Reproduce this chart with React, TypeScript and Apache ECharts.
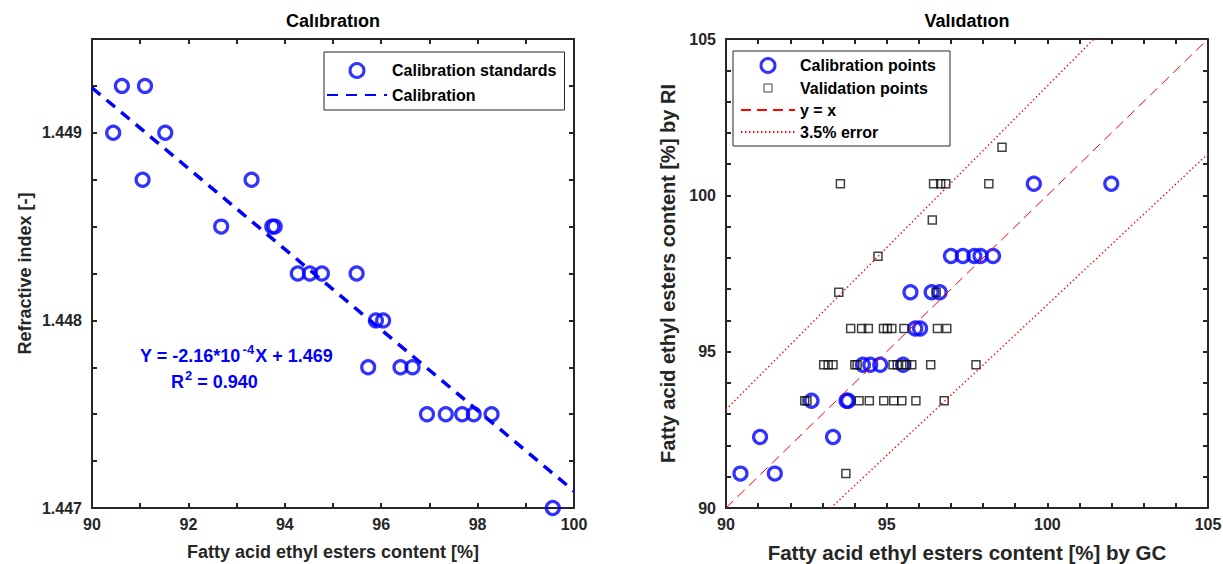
import React, { useEffect, useRef } from "react";
import * as echarts from "echarts";

// ---- Calibration (left panel) ----
const calStdGC = [90.62, 91.10, 90.44, 91.52, 91.05, 93.31, 92.68, 93.74, 93.79, 94.27, 94.52, 94.77, 95.49, 95.89, 96.04, 95.73, 96.40, 96.65, 96.95, 97.34, 97.68, 97.92, 98.29, 99.56];
const calStdRI = [1.44925, 1.44925, 1.449, 1.449, 1.44875, 1.44875, 1.4485, 1.4485, 1.4485, 1.44825, 1.44825, 1.44825, 1.44825, 1.448, 1.448, 1.44775, 1.44775, 1.44775, 1.4475, 1.4475, 1.4475, 1.4475, 1.4475, 1.447];
const calLineX = [90, 100];
const calLineY = [1.44924, 1.44709];

// ---- Validation (right panel) ----
const calPtsGC = [90.45, 91.52, 91.06, 93.33, 92.66, 93.75, 93.80, 94.26, 94.49, 94.80, 95.51, 95.89, 96.04, 95.74, 96.40, 96.65, 97.00, 97.37, 97.73, 97.92, 98.31, 99.58, 101.99];
const calPtsRI = [91.10, 91.10, 92.27, 92.27, 93.43, 93.43, 93.43, 94.58, 94.58, 94.58, 94.58, 95.74, 95.74, 96.90, 96.90, 96.90, 98.06, 98.06, 98.06, 98.06, 98.06, 100.37, 100.37];

const valGC = [93.56, 96.46, 96.68, 96.84, 98.18, 98.59, 96.42, 94.73, 93.51, 96.54,
  93.88, 94.22, 94.43, 94.90, 95.02, 95.16, 95.54, 96.58, 96.87,
  93.04, 93.18, 93.33, 94.01, 94.08, 95.20, 95.33, 95.47, 95.62, 95.78, 96.37, 97.78,
  92.45, 92.52, 94.14, 94.46, 94.91, 95.22, 95.47, 95.91, 96.79,
  93.73];
const valRI = [100.37, 100.37, 100.37, 100.37, 100.37, 101.54, 99.21, 98.05, 96.90, 96.90,
  95.74, 95.74, 95.74, 95.74, 95.74, 95.74, 95.74, 95.74, 95.74,
  94.58, 94.58, 94.58, 94.58, 94.58, 94.58, 94.58, 94.58, 94.58, 94.58, 94.58, 94.58,
  93.43, 93.43, 93.43, 93.43, 93.43, 93.43, 93.43, 93.43, 93.43,
  91.10];

const identityX = [90, 105];
const identityY = [90, 105];
const errUpperX = [90, 101.45];
const errUpperY = [93.15, 105];
const errLowerX = [93.26, 105];
const errLowerY = [90, 101.325];

const FONT = 'Arial, "Liberation Sans", sans-serif';
const AX = "#262626";
const BLUE = "#0000ff";
const RED = "#ff0000";

const zip = (a: number[], b: number[]) => a.map((v, i) => [v, b[i]]);

function App() {
  const ref = useRef<HTMLDivElement>(null);
  useEffect(() => {
    const chart = echarts.init(ref.current!, null, { renderer: "svg" });

    const grids = [
      { left: 92, top: 39, width: 482, height: 469, outerBoundsMode: "none", containLabel: false },
      { left: 726, top: 39, width: 482, height: 469, outerBoundsMode: "none", containLabel: false },
    ];
    const lab = { fontFamily: FONT, fontWeight: "bold", fontSize: 16, color: AX };
    const nameStyle = { fontFamily: FONT, fontWeight: "bold", fontSize: 18, color: AX };
    const nameStyleRX = { fontFamily: FONT, fontWeight: "bold", fontSize: 20.5, color: AX };
    const nameStyleRY = { fontFamily: FONT, fontWeight: "bold", fontSize: 20, color: AX };
    const base = (extra: any) => ({
      type: "value",
      axisLine: { show: true, onZero: false, lineStyle: { color: AX, width: 2 } },
      axisTick: { show: true, inside: true, length: 5, lineStyle: { color: AX, width: 2 } },
      splitLine: { show: false },
      ...extra,
    });
    const hidden = { show: false };

    const xAxis = [
      base({ gridIndex: 0, position: "bottom", min: 90, max: 100, interval: 1,
        axisLabel: { ...lab, margin: 8, formatter: (v: number) => (Math.round(v) % 2 === 0 ? String(Math.round(v)) : "") },
        name: "Fatty acid ethyl esters content [%]", nameLocation: "middle", nameGap: 35, nameTextStyle: nameStyle }),
      base({ gridIndex: 0, position: "top", min: 90, max: 100, interval: 1, axisLabel: hidden }),
      base({ gridIndex: 1, position: "bottom", min: 90, max: 105, interval: 1,
        axisLabel: { ...lab, margin: 8, formatter: (v: number) => (Math.round(v) % 5 === 0 ? String(Math.round(v)) : "") },
        name: "Fatty acid ethyl esters content [%] by GC", nameLocation: "middle", nameGap: 34, nameTextStyle: nameStyleRX }),
      base({ gridIndex: 1, position: "top", min: 90, max: 105, interval: 1, axisLabel: hidden }),
    ];
    const yAxis = [
      base({ gridIndex: 0, position: "left", min: 1.447, max: 1.4495, interval: 0.00025,
        axisLabel: { ...lab, margin: 10, formatter: (v: number) => (Math.abs(v * 1000 - Math.round(v * 1000)) < 1e-6 ? v.toFixed(3) : "") },
        name: "Refractive index [-]", nameLocation: "middle", nameGap: 58, nameTextStyle: nameStyle }),
      base({ gridIndex: 0, position: "right", min: 1.447, max: 1.4495, interval: 0.00025, axisLabel: hidden }),
      base({ gridIndex: 1, position: "left", min: 90, max: 105, interval: 1,
        axisLabel: { ...lab, margin: 10, formatter: (v: number) => (Math.round(v) % 5 === 0 ? String(Math.round(v)) : "") },
        name: "Fatty acid ethyl esters content [%] by RI", nameLocation: "middle", nameGap: 48, nameTextStyle: nameStyleRY }),
      base({ gridIndex: 1, position: "right", min: 90, max: 105, interval: 1, axisLabel: hidden }),
    ];

    const circleStyle = { color: "transparent", borderColor: BLUE, borderWidth: 3.2 };
    const series: any[] = [
      { name: "Calibration standards", type: "scatter", xAxisIndex: 0, yAxisIndex: 0,
        symbol: "circle", symbolSize: 13, itemStyle: circleStyle, data: zip(calStdGC, calStdRI), z: 3 },
      { name: "Calibration", type: "line", xAxisIndex: 0, yAxisIndex: 0, symbol: "none",
        lineStyle: { color: BLUE, width: 3.5, type: [11, 8] }, data: zip(calLineX, calLineY), z: 4 },
      { name: "Calibration points", type: "scatter", xAxisIndex: 2, yAxisIndex: 2,
        symbol: "circle", symbolSize: 13, itemStyle: circleStyle, data: zip(calPtsGC, calPtsRI), z: 3 },
      { name: "Validation points", type: "scatter", xAxisIndex: 2, yAxisIndex: 2,
        symbol: "rect", symbolSize: 8, itemStyle: { color: "transparent", borderColor: "#111", borderWidth: 1.5 },
        data: zip(valGC, valRI), z: 4 },
      { name: "y = x", type: "line", xAxisIndex: 2, yAxisIndex: 2, symbol: "none",
        lineStyle: { color: RED, width: 1, type: [10, 6] }, data: zip(identityX, identityY), z: 5 },
      { name: "3.5% error", type: "line", xAxisIndex: 2, yAxisIndex: 2, symbol: "none",
        lineStyle: { color: RED, width: 1.4, type: [1.4, 2.6] }, data: zip(errUpperX, errUpperY), z: 5 },
      { name: "3.5% error", type: "line", xAxisIndex: 2, yAxisIndex: 2, symbol: "none",
        lineStyle: { color: RED, width: 1.4, type: [1.4, 2.6] }, data: zip(errLowerX, errLowerY), z: 5 },
    ];

    const noSym = { color: "transparent", borderColor: "transparent", borderWidth: 0, opacity: 0 };
    const legendText = { fontFamily: FONT, fontWeight: "bold", fontSize: 16, color: "#000" };
    const legend = [
      { orient: "vertical", left: 324, top: 52, padding: [10, 8, 7, 2], itemWidth: 60, itemHeight: 14, itemGap: 8,
        borderColor: AX, borderWidth: 1, backgroundColor: "#fff", textStyle: legendText, selectedMode: false,
        data: [
          { name: "Calibration standards", icon: "circle", itemStyle: { color: "#fff", borderColor: BLUE, borderWidth: 3 } },
          { name: "Calibration", itemStyle: noSym },
        ] },
      { orient: "vertical", left: 733, top: 51, padding: [6, 14, 6, 7], itemWidth: 54, itemHeight: 14, itemGap: 6,
        borderColor: AX, borderWidth: 1, backgroundColor: "#fff", textStyle: legendText, selectedMode: false,
        data: [
          { name: "Calibration points", icon: "circle", itemStyle: { color: "#fff", borderColor: BLUE, borderWidth: 3 } },
          { name: "Validation points", icon: "path://M0,0M14,14M3,3L11,3L11,11L3,11Z", itemStyle: { color: "#fff", borderColor: "#111", borderWidth: 1 } },
          { name: "y = x", itemStyle: noSym },
          { name: "3.5% error", itemStyle: noSym },
        ] },
    ];

    const eqStyle = { fontFamily: FONT, fontWeight: "bold", fontSize: 18, fill: BLUE };
    const graphic = [
      { type: "text", x: 333, y: 12, style: { text: "Calıbratıon", fontFamily: FONT, fontWeight: "bold", fontSize: 18, fill: "#000", align: "center" } },
      { type: "text", x: 967, y: 12, style: { text: "Valıdatıon", fontFamily: FONT, fontWeight: "bold", fontSize: 18, fill: "#000", align: "center" } },
      { type: "text", x: 140, y: 343, style: {
        text: "{a|Y = -2.16*10}{s|-4}{a|X + 1.469}", ...eqStyle,
        rich: { a: { fontFamily: FONT, fontWeight: "bold", fontSize: 18, color: BLUE },
                s: { fontFamily: FONT, fontWeight: "bold", fontSize: 13, color: BLUE, padding: [0, 1, 12, 2] } } } },
      { type: "text", x: 171, y: 369, style: {
        text: "{a|R}{s|2}{a| = 0.940}", ...eqStyle,
        rich: { a: { fontFamily: FONT, fontWeight: "bold", fontSize: 18, color: BLUE },
                s: { fontFamily: FONT, fontWeight: "bold", fontSize: 13, color: BLUE, padding: [0, 0, 12, 1] } } } },
    ];

    chart.setOption({ animation: false, backgroundColor: "#fff", grid: grids, xAxis, yAxis, series, legend, graphic });
    return () => chart.dispose();
  }, []);
  return <div ref={ref} style={{ position: "fixed", left: 0, top: 0, width: 1223, height: 564 }} />;
}

export default App;
